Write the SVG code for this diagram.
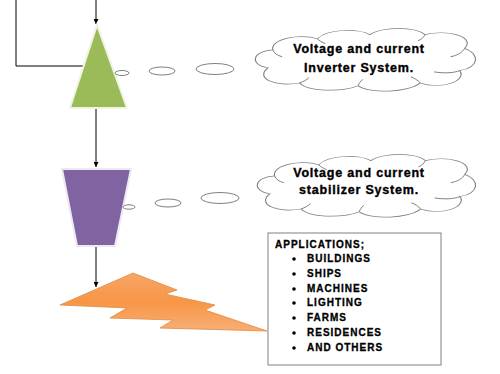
<svg xmlns="http://www.w3.org/2000/svg" width="500" height="374" viewBox="0 0 500 374">
<defs>
<marker id="arr" viewBox="0 0 10 10" refX="10" refY="5" markerWidth="5" markerHeight="5" orient="auto" markerUnits="userSpaceOnUse">
<path d="M0,0 L10,5 L0,10 Z" fill="#000"/>
</marker>
<linearGradient id="bolt" x1="0" y1="0" x2="0" y2="1">
<stop offset="0" stop-color="#F8A568"/>
<stop offset="0.5" stop-color="#F79646"/>
<stop offset="1" stop-color="#F8AE76"/>
</linearGradient>
<path id="cloud" d="M18,62 C2,58 4,38 22,36 C20,20 45,12 60,20 C68,6 95,4 105,14 C115,2 145,2 152,14 C170,6 196,16 186,34 C200,42 198,62 182,66 C188,82 165,94 148,84 C138,98 105,100 95,88 C80,98 50,96 45,84 C25,90 6,78 18,62 Z"/>
</defs>
<style>
.ln{stroke:#000;stroke-width:1;fill:none}
.ov{fill:#fff;stroke:#808080;stroke-width:1}
.cl{fill:#fff;stroke:#808080;stroke-width:1;vector-effect:non-scaling-stroke}
.fold{fill:none;stroke:#808080;stroke-width:1;vector-effect:non-scaling-stroke}
.ct{font-family:"Liberation Sans",Arial,sans-serif;font-weight:bold;font-size:12.5px;letter-spacing:0.8px;fill:#000;stroke:#000;stroke-width:0.35px;text-anchor:middle}
.at{font-family:"Liberation Sans",Arial,sans-serif;font-weight:bold;font-size:10px;letter-spacing:1px;fill:#000;stroke:#000;stroke-width:0.3px}
</style>
<g id="connectors">
<path class="ln" d="M96,0 L96,24" marker-end="url(#arr)"/>
<path class="ln" d="M16,0 L16,66 L86,66"/>
<path class="ln" d="M96,108 L96,167" marker-end="url(#arr)"/>
<path class="ln" d="M96,246 L96,287" marker-end="url(#arr)"/>
</g>
<g id="inverter">
<polygon points="97,25 127,108 70,108" fill="#9BBB59" stroke="#EEF3E2" stroke-width="2"/>
</g>
<g id="thought1">
<ellipse class="ov" cx="122" cy="73" rx="7" ry="2.5"/>
<ellipse class="ov" cx="162" cy="71" rx="13" ry="4"/>
<ellipse class="ov" cx="215" cy="69" rx="19" ry="5.5"/>
</g>
<g id="cloud1">
<g transform="translate(247,25) scale(1.17,0.69)">
<use href="#cloud" class="cl"/>
<path class="fold" d="M22,36 C23,41 26,44 30,46"/>
<path class="fold" d="M60,20 C62,23 64,25 67,27"/>
<path class="fold" d="M152,14 C151,18 149,21 146,23"/>
<path class="fold" d="M186,34 C184,40 180,44 174,46"/>
<path class="fold" d="M182,66 C176,70 168,70 160,68"/>
<path class="fold" d="M148,84 C146,80 143,77 140,75"/>
<path class="fold" d="M95,88 C96,84 97,81 99,79"/>
<path class="fold" d="M45,84 C48,82 51,80 53,76"/>
</g>
<text class="ct" x="359" y="53">Voltage and current</text>
<text class="ct" x="359" y="72">Inverter System.</text>
</g>
<g id="stabilizer">
<polygon points="62,169 131,169 115,246 77,246" fill="#8064A2" stroke="#EDE8F2" stroke-width="2"/>
</g>
<g id="thought2">
<ellipse class="ov" cx="129" cy="207" rx="6" ry="2.2"/>
<ellipse class="ov" cx="168" cy="203" rx="13" ry="4"/>
<ellipse class="ov" cx="220" cy="198" rx="19" ry="5.5"/>
</g>
<g id="cloud2">
<g transform="translate(249,151) scale(1.16,0.69)">
<use href="#cloud" class="cl"/>
<path class="fold" d="M22,36 C23,41 26,44 30,46"/>
<path class="fold" d="M60,20 C62,23 64,25 67,27"/>
<path class="fold" d="M152,14 C151,18 149,21 146,23"/>
<path class="fold" d="M186,34 C184,40 180,44 174,46"/>
<path class="fold" d="M182,66 C176,70 168,70 160,68"/>
<path class="fold" d="M148,84 C146,80 143,77 140,75"/>
<path class="fold" d="M95,88 C96,84 97,81 99,79"/>
<path class="fold" d="M45,84 C48,82 51,80 53,76"/>
</g>
<text class="ct" x="359" y="177">Voltage and current</text>
<text class="ct" x="359" y="194">stabilizer System.</text>
</g>
<g id="lightning">
<polygon points="60,305 133,273 177,290 165,294 215,305 205,310 267,331 160,328 173,320 110,318 127,308" fill="url(#bolt)" stroke="#E08A40" stroke-width="0.8"/>
</g>
<g id="applications">
<rect x="268" y="233" width="173" height="132" fill="#fff" stroke="#808080" stroke-width="1"/>
<text class="at" x="275" y="248">APPLICATIONS;</text>
<g>
<circle cx="294" cy="259" r="1.8"/>
<circle cx="294" cy="274" r="1.8"/>
<circle cx="294" cy="289" r="1.8"/>
<circle cx="294" cy="303" r="1.8"/>
<circle cx="294" cy="318" r="1.8"/>
<circle cx="294" cy="333" r="1.8"/>
<circle cx="294" cy="348" r="1.8"/>
</g>
<text class="at" x="307" y="262">BUILDINGS</text>
<text class="at" x="307" y="277">SHIPS</text>
<text class="at" x="307" y="292">MACHINES</text>
<text class="at" x="307" y="306">LIGHTING</text>
<text class="at" x="307" y="321">FARMS</text>
<text class="at" x="307" y="336">RESIDENCES</text>
<text class="at" x="307" y="351">AND OTHERS</text>
</g>
</svg>
